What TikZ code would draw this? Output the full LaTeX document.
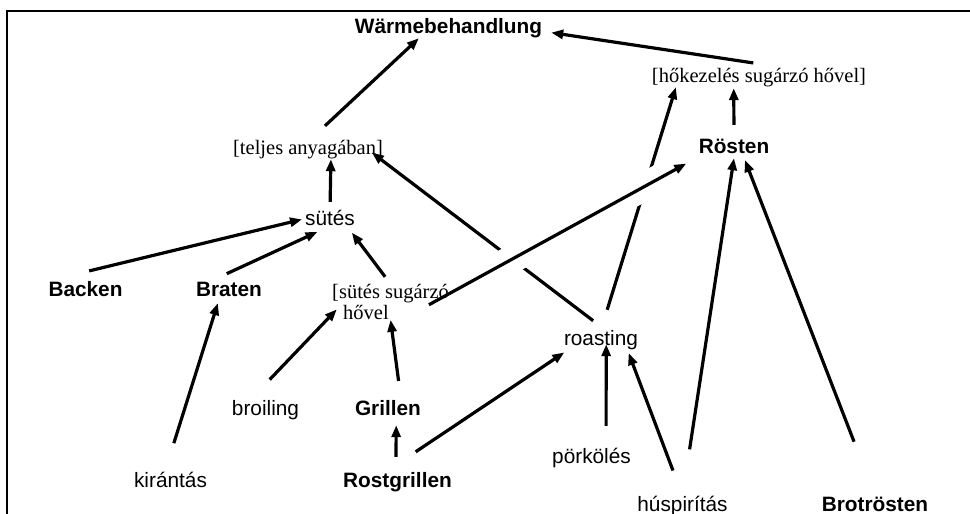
\documentclass[tikz,border=0pt]{standalone}
\usepackage{fontspec}
\setmainfont{Liberation Sans}
\newfontfamily\timesfont{Liberation Serif}
\usetikzlibrary{arrows.meta}
\pgfdeclarelayer{edges}
\pgfsetlayers{edges,main}

\begin{document}
\begin{tikzpicture}[x=1pt, y=-1pt,
    plainw/.style={inner sep=0pt, anchor=base, text height=15pt, text depth=5pt, font=\fontsize{20.8}{25}\selectfont},
    boldw/.style={plainw, font=\fontsize{20.8}{25}\selectfont\bfseries},
    serifw/.style={plainw, font=\timesfont\fontsize{20.5}{21}\selectfont},
    arr/.style={line width=3.2pt, -{Triangle[length=12pt,width=9pt]}},
    whitegap/.style={preaction={draw=white, line width=28pt, -}}]
      \useasboundingbox (0,0) rectangle (970,514);
      \draw[line width=2pt] (7,514) -- (7,11) -- (970,11);

      \node[boldw] (W) at (448.5,33) {Wärmebehandlung};
      \node[serifw] (H) at (759,82) {[hőkezelés sugárzó hővel]};
      \node[boldw] (R) at (734,153) {Rösten};
      \node[serifw] (T) at (308,154) {[teljes anyagában]};
      \node[plainw] (S) at (330,225) {sütés};
      \node[boldw] (Ba) at (85.5,296) {Backen};
      \node[boldw] (Br) at (229,296) {Braten};
      \node[inner sep=0pt, anchor=north west, align=left, font=\timesfont\fontsize{20.5}{21}\selectfont] (SS) at (332,284) {[sütés sugárzó\\\hspace*{11pt}hővel};
      \node[plainw] (Bl) at (265.5,415) {broiling};
      \node[boldw] (G) at (388,415) {Grillen};
      \node[plainw] (K) at (170.5,487) {kirántás};
      \node[boldw] (RG) at (397.5,487) {Rostgrillen};
      \node[plainw] (Ro) at (601,345) {roasting};
      \node[plainw] (P) at (591.5,463) {pörkölés};
      \node[plainw] (Hu) at (682.5,511) {húspirítás};
      \node[boldw] (Bt) at (875,511) {Brotrösten};

      \begin{pgfonlayer}{edges}
      \draw[arr, shorten <=19pt] (T.73) -- (W.199);
      \draw[arr, shorten <=26pt, shorten >=9pt] (H.27) -- (W.-2);
      \draw[arr, shorten <=8pt] (S.north) -- (T.-24);
      \draw[arr, shorten <=42pt, shorten >=3pt] (Ba.north west) -- (S.177);
      \draw[arr, shorten <=17pt, shorten >=4pt] (Br.150) -- (S.229);
      \draw[arr, shorten <=9pt, shorten >=3pt] (SS.north) -- (S.-27);
      \draw[arr, shorten <=15pt, shorten >=-11pt] (Ro.68) -- (T.-8);
      \draw[arr, shorten <=21pt] (Ro.north) -- (H.-173);
      \draw[arr, shorten <=13pt, shorten >=1pt] (R.north) -- (H.-158);
      \draw[arr, shorten <=47pt] (Hu.north) -- (R.south);
      \draw[arr, shorten <=58pt, shorten >=2pt] (Bt.north) -- (R.-45);
      \draw[arr, shorten <=36pt, shorten >=4pt] (RG.139) -- (Ro.197);
      \draw[arr, shorten <=22pt, shorten >=-6pt] (P.35) -- (Ro.-63);
      \draw[arr, shorten <=27pt, shorten >=3pt] (Hu.north) -- (Ro.-21);
      \draw[arr, shorten <=19pt] (G.38) -- (SS.south);
      \draw[arr, shorten <=28pt, shorten >=-7pt] (Bl.146) -- (SS.192);
      \draw[arr, shorten <=30pt, shorten >=2pt] (K.119) -- (Br.-136);
      \draw[arr, shorten <=15pt, shorten >=5pt] (RG.99) -- (G.-51);
      \draw[arr, whitegap, shorten <=-23pt, shorten >=14pt] (SS.8) -- (R.194);
      \end{pgfonlayer}
    \end{tikzpicture}
\end{document}
